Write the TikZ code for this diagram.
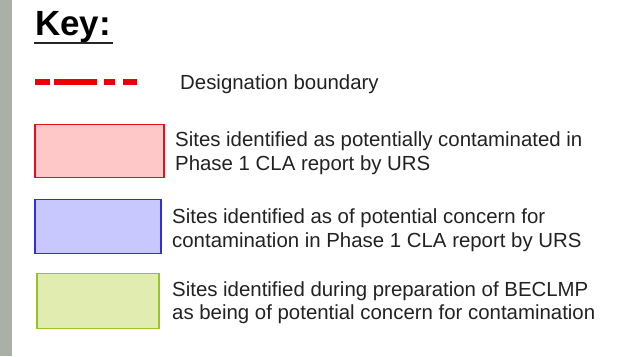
\documentclass[tikz,border=0pt]{standalone}
\usepackage{fontspec}
\setmainfont{Liberation Sans}
\definecolor{strip}{HTML}{A9B1A6}
\definecolor{txt}{HTML}{222222}
\definecolor{dred}{HTML}{E8000B}
\definecolor{pinkfill}{HTML}{FFC8C8}
\definecolor{pinkdraw}{HTML}{E01020}
\definecolor{bluefill}{HTML}{C8C8FF}
\definecolor{bluedraw}{HTML}{3030D8}
\definecolor{greenfill}{HTML}{E0ECB0}
\definecolor{greendraw}{HTML}{99C422}
\tikzset{
  lbl/.style={anchor=base west, inner sep=0pt, text=txt, font=\fontsize{20.4}{24}\selectfont},
  keybox/.style={line width=1.6pt},
}
\begin{document}
\begin{tikzpicture}[x=1pt,y=-1pt]
\useasboundingbox (0,0) rectangle (618,356);
\fill[white] (0,0) rectangle (618,356);
\fill[strip] (0,0) rectangle (12,356);
% title
\node[anchor=base west, inner sep=0pt, text=black, font=\bfseries\fontsize{35}{40}\selectfont] (key) at (35,35) {Key:};
\draw[black!85, line width=2pt] (34,43) -- (113,43);
% designation boundary
\coordinate (d0) at (35,82);
\coordinate (d1) at (137,82);
\draw[dred, line width=6pt, dash pattern=on 15pt off 4pt on 43pt off 7pt on 11pt off 8pt on 14pt off 10pt] (d0) -- (d1);
\node[lbl] (t0) at (180,89.5) {Designation boundary};
% pink
\node[keybox, draw=pinkdraw, fill=pinkfill, minimum width=129pt, minimum height=53pt, anchor=north west, inner sep=0pt] (b1) at (34,123.5) {};
\node[lbl] (t1a) at (175,146.5) {Sites identified as potentially contaminated in};
\node[lbl] (t1b) at (175,170.5) {Phase 1 CLA report by URS};
% blue
\node[keybox, draw=bluedraw, fill=bluefill, minimum width=126pt, minimum height=54pt, anchor=north west, inner sep=0pt] (b2) at (34,198.5) {};
\node[lbl] (t2a) at (172,223.5) {Sites identified as of potential concern for};
\node[lbl] (t2b) at (172,247.5) {contamination in Phase 1 CLA report by URS};
% green
\node[keybox, draw=greendraw, fill=greenfill, minimum width=122pt, minimum height=55pt, anchor=north west, inner sep=0pt] (b3) at (36,272.5) {};
\node[lbl] (t3a) at (172,296.5) {Sites identified during preparation of BECLMP};
\node[lbl] (t3b) at (172,319.5) {as being of potential concern for contamination};
\end{tikzpicture}
\end{document}
